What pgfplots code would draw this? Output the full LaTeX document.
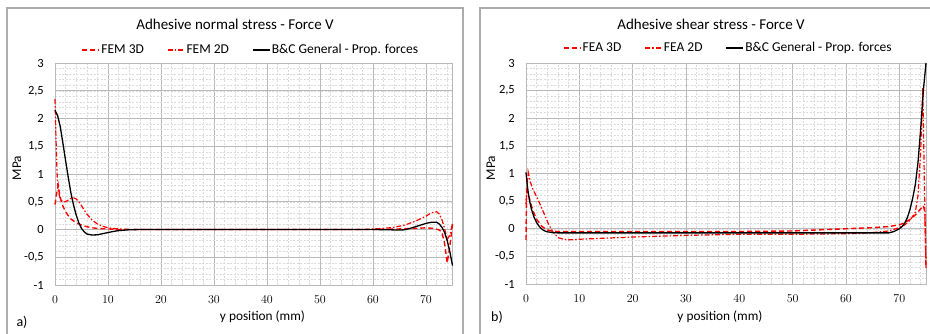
\documentclass[border=0pt]{standalone}
\usepackage{fontspec}
\setmainfont{Carlito}
\usepackage{pgfplots}
\pgfplotsset{compat=1.18}
\definecolor{exred}{RGB}{255,0,0}
\pgfplotsset{
 panel/.style={
  scale only axis, anchor=south west,
  xmin=0,xmax=75,ymin=-1,ymax=3,
  xtick={0,10,...,70}, ytick={-1,-0.5,...,3},
  yticklabels={{-1},{-0,5},{0},{0,5},{1},{1,5},{2},{2,5},{3}},
  minor xtick={0,2,...,74}, minor ytick={-1,-0.9,...,3},
  grid=both,
  major grid style={gray!55, line width=0.6pt},
  minor grid style={gray!28, dash pattern=on 2pt off 1.5pt, line width=0.5pt},
  axis line style={gray!55, line width=0.6pt},
  major tick length=0pt, minor tick length=0pt,
  tick style={draw=none},
  ticklabel style={font=\fontsize{12.5}{14}\selectfont, inner sep=0pt},
  yticklabel style={xshift=-11pt},
  xticklabel style={yshift=-11pt},
  legend columns=3,
  legend style={draw=none, fill=none, font=\fontsize{13.5}{16}\selectfont, anchor=center,
    /tikz/every even column/.append style={column sep=22pt},
    nodes={inner sep=1.2pt}},
  legend image code/.code={\draw[#1] (0pt,0pt) -- (17pt,0pt);},
  clip=false,
 },
 fem3d/.style={exred, line width=1.4pt, dash pattern=on 5pt off 3pt},
 fem2d/.style={exred, line width=1.2pt, dash pattern=on 5pt off 2pt on 1.5pt off 2pt},
 bc/.style={black, line width=1.3pt},
}
\begin{document}
\begin{tikzpicture}
\useasboundingbox (0pt,0pt) rectangle (930pt,333pt);
\draw[gray!65, line width=1.6pt] (7pt,-5pt) -- (7pt,325pt) -- (463pt,325pt) -- (463pt,-5pt);
\draw[gray!65, line width=1.6pt] (480pt,-5pt) -- (480pt,325pt) -- (945pt,325pt);

\begin{axis}[panel, at={(55pt,48pt)}, width=397.5pt, height=222pt,
  legend style={at={(axis description cs:0.492,1.059)}}]
\addplot[fem3d] coordinates {(0,0.45)(0.3,0.65)(0.6,0.8)(0.9,0.62)(1.2,0.5)(1.5,0.42)(2,0.32)(2.5,0.25)(3,0.19)(4,0.12)(5,0.08)(6,0.05)(7,0.03)(8,0.02)(10,0.01)(12,0)(60,0)(65,0.01)(68,0.02)(70,0.03)(71.5,0.02)(72.5,-0.01)(73,-0.05)(73.5,-0.25)(74,-0.6)(74.5,-0.3)(75,0.1)};
\addlegendentry{FEM 3D}
\addplot[fem2d] coordinates {(0,2.35)(0.2,1.6)(0.4,1.0)(0.6,0.7)(1,0.55)(1.5,0.5)(2,0.5)(2.5,0.53)(3,0.56)(3.5,0.57)(4,0.55)(4.5,0.5)(5,0.43)(5.5,0.35)(6,0.28)(7,0.17)(8,0.1)(9,0.06)(10,0.03)(12,0.01)(15,0)(58,0)(60,0.01)(62,0.02)(64,0.04)(66,0.08)(68,0.15)(70,0.24)(71,0.3)(72,0.32)(72.5,0.28)(73,0.18)(73.5,0.02)(74,-0.18)(74.5,-0.1)(75,0.1)};
\addlegendentry{FEM 2D}
\addplot[bc] coordinates {(0,2.15)(0.5,2.05)(1,1.85)(1.5,1.55)(2,1.24)(2.5,0.94)(3,0.66)(3.5,0.44)(4,0.26)(4.5,0.12)(5,0.02)(5.5,-0.04)(6,-0.08)(7,-0.1)(8,-0.095)(9,-0.075)(10,-0.055)(11,-0.035)(12,-0.02)(14,-0.005)(16,0)(60,0)(63,-0.005)(65,-0.01)(66,-0.005)(67,0.02)(68,0.05)(69,0.08)(70,0.11)(71,0.13)(72,0.13)(72.5,0.1)(73,0.04)(73.5,-0.05)(74,-0.2)(74.5,-0.4)(75,-0.65)};
\addlegendentry{B\&C General - Prop. forces}
\end{axis}

\begin{axis}[panel, at={(526pt,49pt)}, width=400pt, height=221pt,
  legend style={at={(axis description cs:0.505,1.068)}}]
\addplot[fem3d] coordinates {(0,-0.2)(0.1,0.7)(0.5,0.6)(1,0.42)(1.5,0.28)(2,0.17)(3,0.04)(4,-0.02)(5,-0.045)(6,-0.05)(40,-0.05)(50,-0.04)(55,-0.02)(60,0)(65,0.02)(68,0.04)(70,0.07)(71,0.11)(72,0.17)(73,0.25)(74,0.36)(74.5,0.42)(74.8,0.3)(75,-0.7)};
\addlegendentry{FEA 3D}
\addplot[fem2d] coordinates {(0,0.45)(0.4,1.03)(0.8,0.85)(1.4,0.69)(2,0.58)(2.6,0.45)(3.4,0.27)(4.2,0.09)(5,-0.05)(6,-0.16)(7,-0.19)(8,-0.2)(10,-0.19)(15,-0.17)(20,-0.15)(30,-0.12)(40,-0.1)(50,-0.1)(60,-0.09)(65,-0.07)(68,-0.04)(70,0.02)(71,0.07)(72,0.15)(73,0.3)(73.5,0.6)(74,1.4)(74.4,2.55)(74.7,0.8)(75,-0.75)};
\addlegendentry{FEA 2D}
\addplot[bc] coordinates {(0,1.02)(0.25,0.78)(0.5,0.6)(0.75,0.47)(1,0.36)(1.5,0.21)(2,0.11)(2.5,0.04)(3,-0.01)(3.5,-0.04)(4,-0.055)(5,-0.07)(6,-0.075)(68,-0.075)(69,-0.05)(70,0)(70.5,0.04)(71,0.1)(71.5,0.2)(72,0.35)(72.5,0.55)(73,0.8)(73.5,1.2)(74,1.8)(74.5,2.5)(75,3.0)};
\addlegendentry{B\&C General - Prop. forces}
\end{axis}

\node[font=\fontsize{15}{17}\selectfont] at (235pt,309pt) {Adhesive normal stress - Force V};
\node[font=\fontsize{15}{17}\selectfont] at (711pt,309pt) {Adhesive shear stress - Force V};
\node[font=\fontsize{13.3}{15}\selectfont, rotate=90] at (17pt,165pt) {MPa};
\node[font=\fontsize{13.3}{15}\selectfont, rotate=90] at (491pt,165pt) {MPa};
\node[font=\fontsize{13.3}{15}\selectfont] at (262.5pt,16pt) {y position (mm)};
\node[font=\fontsize{13.3}{15}\selectfont] at (720pt,16pt) {y position (mm)};
\node[font=\fontsize{14}{16}\selectfont] at (22pt,11pt) {a)};
\node[font=\fontsize{14}{16}\selectfont] at (497pt,16pt) {b)};
\end{tikzpicture}
\end{document}
